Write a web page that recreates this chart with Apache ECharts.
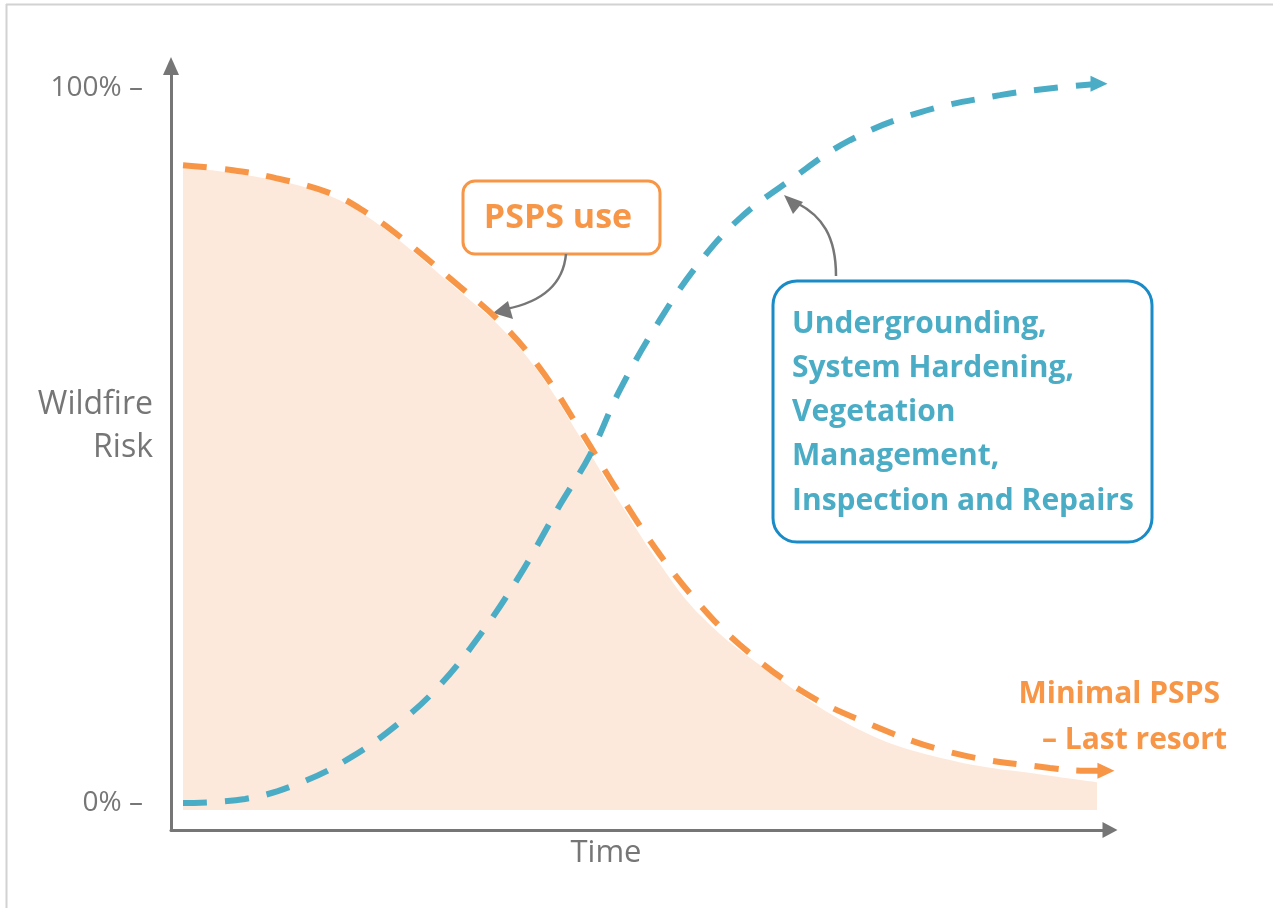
<!DOCTYPE html>
<html>
<head>
<meta charset="utf-8">
<script src="https://cdn.jsdelivr.net/npm/echarts@6/dist/echarts.min.js"></script>
<style>
  html, body { margin: 0; padding: 0; background: #fff; }
  #chart { width: 1273px; height: 908px; }
</style>
</head>
<body>
<div id="chart"></div>
<script>
// y axis ticks
const yTicks = [0, 100];
const yTickLabels = { 0: "0% –", 100: "100% –" };

// PSPS use curve (orange), [time, risk %]
const pspsCurve = [
  [1.28, 89.2], [6.6, 88.5], [11.18, 87.4], [16.93, 85.3], [20.66, 82.7],
  [24.39, 79.2], [30.78, 72.2], [35.04, 67.3], [39.3, 60.8], [43.56, 52.2],
  [47.82, 43.1], [52.08, 34.7], [56.34, 27.7], [60.6, 22.1], [66.99, 15.8],
  [73.38, 11.6], [82.96, 7.1], [93.61, 4.9], [98.72, 4.5], [99.57, 4.5],
];

// undergrounding / hardening curve (teal)
const hardeningCurve = [
  [1.28, 0], [7.88, 0.56], [13.74, 2.8], [19.06, 6.3], [24.39, 11.3],
  [28.65, 16.5], [32.91, 23.5], [37.17, 31.9], [41.43, 41.7], [44.62, 48.7],
  [47.82, 57.8], [52.08, 67.6], [56.34, 75.7], [60.6, 81.8], [65.92, 87.1],
  [72.31, 92.7], [79.77, 96.6], [88.29, 99.0], [94.68, 100.1], [98.83, 100.6],
];

// shaded wildfire risk area (top edge) and its base
const riskAreaTop = [
  [1.28, 89.0], [11.18, 87.1], [16.93, 84.9], [20.66, 82.2], [24.39, 78.6],
  [30.78, 71.5], [35.04, 66.6], [39.3, 60.0], [43.56, 51.2], [47.82, 42.0],
  [52.08, 33.4], [56.34, 26.3], [62.73, 19.3], [73.38, 10.2], [82.96, 6.0],
  [93.61, 3.8], [98.62, 2.9],
];
const riskAreaBase = -1;

const teal = "#4bacc6";
const orange = "#f79646";
const grey = "#767676";
const font = "Open Sans";

// last point carries the arrow head
function withArrow(points) {
  return points.map((p, i) =>
    i === points.length - 1
      ? { value: p, symbol: "triangle", symbolSize: [16, 17], symbolRotate: -90 }
      : p
  );
}

const tealLines = [
  "Undergrounding,",
  "System Hardening,",
  "Vegetation",
  "Management,",
  "Inspection and Repairs",
];

const graphics = [
  // frame
  { type: "line", shape: { x1: 6, y1: 4.5, x2: 1273, y2: 4.5 }, style: { stroke: "#d2d2d2", lineWidth: 2 } },
  { type: "line", shape: { x1: 6.5, y1: 4, x2: 6.5, y2: 908 }, style: { stroke: "#d2d2d2", lineWidth: 2 } },
  // axis titles
  { type: "text", style: { text: "Wildfire", x: 153, y: 405, align: "right", verticalAlign: "middle", fontSize: 32, fontFamily: font, fill: grey } },
  { type: "text", style: { text: "Risk", x: 153, y: 448, align: "right", verticalAlign: "middle", fontSize: 32, fontFamily: font, fill: grey } },
  { type: "text", style: { text: "Time", x: 606, y: 853, align: "center", verticalAlign: "middle", fontSize: 31, fontFamily: font, fill: grey } },
  // PSPS use callout
  { type: "rect", shape: { x: 463, y: 181, width: 197, height: 73, r: 12 }, style: { fill: "#fff", stroke: orange, lineWidth: 3 } },
  { type: "text", style: { text: "PSPS use", x: 558, y: 218, align: "center", verticalAlign: "middle", fontSize: 34, fontWeight: "bold", fontFamily: font, fill: orange } },
  { type: "bezierCurve", shape: { x1: 566, y1: 254, cpx1: 562, cpy1: 298, x2: 506, y2: 309 }, style: { stroke: grey, lineWidth: 2.5, fill: null } },
  { type: "polygon", shape: { points: [[493, 313], [508, 301], [513, 319]] }, style: { fill: grey } },
  // teal callout
  { type: "bezierCurve", shape: { x1: 836, y1: 276, cpx1: 836, cpy1: 236, cpx2: 822, cpy2: 216, x2: 797, y2: 203 }, style: { stroke: grey, lineWidth: 2.5, fill: null } },
  { type: "polygon", shape: { points: [[784, 195], [803, 202], [793, 214]] }, style: { fill: grey } },
  { type: "rect", shape: { x: 773, y: 281, width: 379, height: 261, r: 24 }, style: { fill: "#fff", stroke: "#1a8bc6", lineWidth: 3 } },
  // end label
  { type: "text", style: { text: "Minimal PSPS", x: 1220, y: 694, align: "right", verticalAlign: "middle", fontSize: 30, fontWeight: "bold", fontFamily: font, fill: orange } },
  { type: "text", style: { text: "– Last resort", x: 1227, y: 740, align: "right", verticalAlign: "middle", fontSize: 30, fontWeight: "bold", fontFamily: font, fill: orange } },
];
tealLines.forEach((t, i) => {
  graphics.push({
    type: "text",
    style: { text: t, x: 792, y: 324 + i * 44.3, align: "left", verticalAlign: "middle", fontSize: 30, fontWeight: "bold", fontFamily: font, fill: teal },
  });
});

const option = {
  animation: false,
  grid: { left: 171, right: 163, top: 66, bottom: 78 },
  xAxis: {
    type: "value",
    min: 0,
    max: 100,
    axisLine: {
      show: true,
      onZero: false,
      symbol: ["none", "triangle"],
      symbolSize: [16, 15],
      lineStyle: { color: grey, width: 3 },
    },
    axisTick: { show: false },
    axisLabel: { show: false },
    splitLine: { show: false },
  },
  yAxis: {
    type: "value",
    min: -3.78,
    max: 103.08,
    axisLine: {
      show: true,
      onZero: false,
      symbol: ["none", "triangle"],
      symbolSize: [16, 18],
      lineStyle: { color: grey, width: 3 },
    },
    axisTick: { show: false },
    axisLabel: {
      customValues: yTicks,
      formatter: (v) => yTickLabels[v] || "",
      fontSize: 28,
      fontFamily: font,
      color: grey,
      margin: 28,
    },
    splitLine: { show: false },
  },
  series: [
    {
      name: "risk area",
      type: "line",
      data: riskAreaTop,
      smooth: 0.4,
      symbol: "none",
      silent: true,
      lineStyle: { width: 0 },
      areaStyle: { color: "#fce9db", opacity: 1, origin: riskAreaBase },
      z: 1,
    },
    {
      name: "PSPS use",
      type: "line",
      data: withArrow(pspsCurve),
      smooth: 0.4,
      symbol: "none",
      showAllSymbol: true,
      silent: true,
      itemStyle: { color: orange },
      lineStyle: { color: orange, width: 6, type: [24, 18] },
      z: 3,
    },
    {
      name: "Hardening",
      type: "line",
      data: withArrow(hardeningCurve),
      smooth: 0.4,
      symbol: "none",
      showAllSymbol: true,
      silent: true,
      itemStyle: { color: teal },
      lineStyle: { color: teal, width: 6, type: [24, 18] },
      z: 4,
    },
  ],
  graphic: graphics,
};

const chart = echarts.init(document.getElementById("chart"));
chart.setOption(option);
</script>
</body>
</html>
